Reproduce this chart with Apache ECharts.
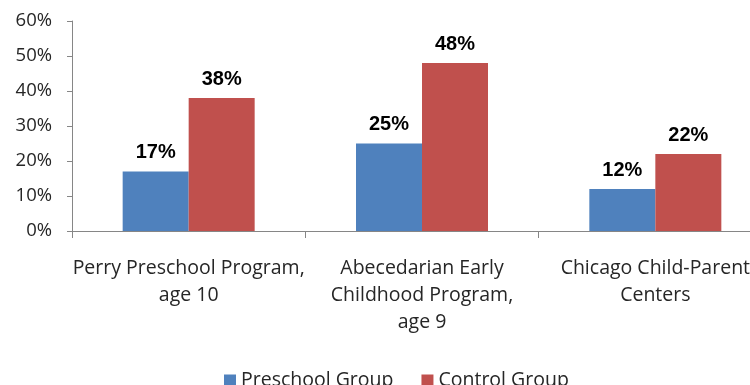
<!DOCTYPE html>
<html>
<head>
<meta charset="utf-8">
<script src="https://cdn.jsdelivr.net/npm/echarts@6/dist/echarts.min.js"></script>
<style>
  html, body { margin: 0; padding: 0; background: #fff; overflow: hidden; }
  /* the reference plot runs past the right edge, so the canvas is wider than the window */
  #chart { width: 800px; height: 385px; }
</style>
</head>
<body>
<div id="chart"></div>
<script>
"use strict";

// data
const programs = [
    "Perry Preschool Program,\nage 10",
    "Abecedarian Early\nChildhood Program,\nage 9",
    "Chicago Child-Parent\nCenters"
];
const preschoolGroup = [17, 25, 12];
const controlGroup = [38, 48, 22];
const seriesNames = ["Preschool Group", "Control Group"];

const colors = { blue: "#4F81BD", red: "#C0504D", axis: "#868686", text: "#262626" };
const labelFont = "'Open Sans', Lato, sans-serif";

const chart = echarts.init(document.getElementById("chart"));

function valueLabel(){
    return {
        show: true,
        position: "top",
        distance: 9,
        formatter: p => p.value + "%",
        fontFamily: "'Liberation Sans', Arial, sans-serif",
        fontWeight: "bold",
        fontSize: 20,
        color: "#000"
    };
}

chart.setOption({
    animation: false,
    grid: { left: 72, top: 21, width: 700, height: 210, containLabel: false },
    legend: {
        left: 224,
        top: 370,
        padding: 0,
        itemWidth: 12,
        itemHeight: 11,
        itemGap: 28,
        icon: "rect",
        textStyle: { fontFamily: labelFont, fontSize: 19.5, color: colors.text },
        data: seriesNames
    },
    xAxis: {
        type: "category",
        data: programs,
        axisLine: { lineStyle: { color: colors.axis, width: 1 } },
        axisTick: { show: true, length: 7, lineStyle: { color: colors.axis } },
        axisLabel: {
            interval: 0,
            margin: 24,
            lineHeight: 27,
            fontFamily: labelFont,
            fontSize: 19.5,
            color: colors.text
        }
    },
    yAxis: {
        type: "value",
        min: 0,
        max: 60,
        interval: 10,
        axisLine: { show: true, lineStyle: { color: colors.axis } },
        axisTick: { show: true, length: 5, lineStyle: { color: colors.axis } },
        splitLine: { show: false },
        axisLabel: {
            margin: 20,
            formatter: "{value}%",
            fontFamily: labelFont,
            fontSize: 18.5,
            color: colors.text
        }
    },
    series: [
        {
            name: seriesNames[0],
            type: "bar",
            data: preschoolGroup,
            barWidth: 66,
            barGap: "0%",
            itemStyle: { color: colors.blue },
            label: valueLabel()
        },
        {
            name: seriesNames[1],
            type: "bar",
            data: controlGroup,
            barWidth: 66,
            barGap: "0%",
            itemStyle: { color: colors.red },
            label: valueLabel()
        }
    ]
});
</script>
</body>
</html>
